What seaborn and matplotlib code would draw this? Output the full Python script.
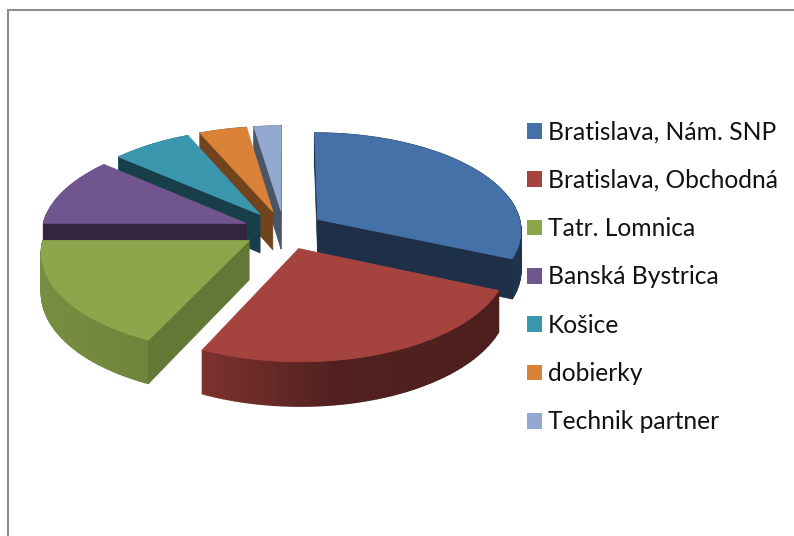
import numpy as np
import matplotlib
matplotlib.use("Agg")
import matplotlib.pyplot as plt
from matplotlib.patches import Patch
import seaborn as sns

categories = ["Bratislava, Nám. SNP", "Bratislava, Obchodná", "Tatr. Lomnica",
              "Banská Bystrica", "Košice", "dobierky", "Technik partner"]
shares = [31.5, 25.5, 18.0, 11.3, 7.1, 4.2, 2.4]
hex_colors = ["#4472A8", "#A5433F", "#8BA64B", "#71558F", "#3A97AE", "#DB8239", "#93A9CF"]
cut_shades = [0.42, 0.45, 0.72, 0.44, 0.42, 0.52, 0.50]

sns.set_style("white")
plt.rcParams["font.family"] = ["Lato", "DejaVu Sans"]
palette = sns.color_palette(hex_colors)

fig = plt.figure(figsize=(7.94, 5.36), dpi=100)
ax = fig.add_axes([0, 0, 1, 1])
ax.set_xlim(0, 794)
ax.set_ylim(536, 0)
ax.axis("off")

# frame
ax.plot([8, 8, 794], [536, 10, 10], color="#8C8C8C", lw=1.5, solid_joinstyle="miter")

# projection of the tilted disc
CX, CY, RX, RY, K, DEPTH, EXPLODE = 284, 230, 204, 97.4, 0.103, 39, 0.2


def project(u, v):
    s = 1 / (1 + K * v)
    return CX + RX * u * s, CY - RY * v * s, s


def shade(color, f):
    return tuple(c * f for c in color)


def wall_factor(x):
    return np.interp(x, [40, 200, 330, 520], [0.86, 0.76, 0.50, 0.45])


fractions = np.array(shares) / sum(shares)
ends = np.cumsum(fractions) * 2 * np.pi
starts = ends - fractions * 2 * np.pi

for i in [6, 5, 4, 3, 0, 2, 1]:
    a0, a1 = starts[i], ends[i]
    mid = (a0 + a1) / 2
    ou, ov = EXPLODE * np.sin(mid), EXPLODE * np.cos(mid)
    ang = np.linspace(a0, a1, max(8, int((a1 - a0) * 60)))
    u, v = ou + np.sin(ang), ov + np.cos(ang)
    x, y, s = project(u, v)
    ax_, ay_, as_ = project(ou, ov)
    col = palette[i]
    # outer wall
    for j in range(len(ang) - 1):
        xm = (x[j] + x[j + 1]) / 2
        c = shade(col, wall_factor(xm))
        ax.fill([x[j], x[j + 1], x[j + 1], x[j]],
                [y[j], y[j + 1], y[j + 1] + DEPTH * s[j + 1], y[j] + DEPTH * s[j]],
                color=c, lw=1.0)
    # cut faces that look towards the viewer
    mx, my = x[len(x) // 2] - ax_, y[len(y) // 2] - ay_
    for px, py, ps in [(x[0], y[0], s[0]), (x[-1], y[-1], s[-1])]:
        ex, ey = px - ax_, py - ay_
        if (ex * my - ey * mx) * ex < 0:
            ax.fill([ax_, px, px, ax_],
                    [ay_ - 1, py - 1, py + DEPTH * ps, ay_ + DEPTH * as_],
                    color=shade(col, cut_shades[i]), lw=0.5)
    # top face
    ax.fill(np.r_[ax_, x], np.r_[ay_, y], color=col, lw=0.6)

handles = [Patch(facecolor=c, edgecolor="none") for c in palette]
ax.legend(handles, categories, loc="center left", bbox_to_anchor=(527 / 794, 1 - 277 / 536),
          frameon=False, fontsize=17.7, labelcolor="#111111", borderpad=0, borderaxespad=0,
          handlelength=0.6, handleheight=0.6, handletextpad=0.26, labelspacing=1.03)

fig.savefig("out.png", dpi=100)
